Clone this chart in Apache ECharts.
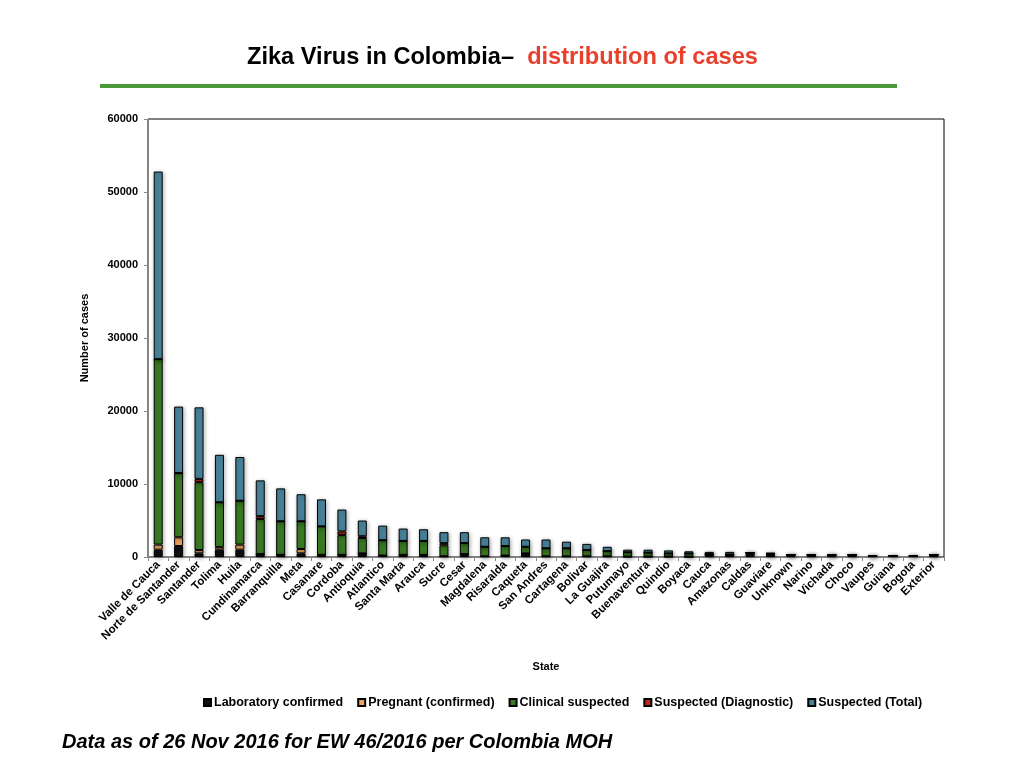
<!DOCTYPE html>
<html>
<head>
<meta charset="utf-8">
<title>Zika Virus in Colombia</title>
<script src="https://cdn.jsdelivr.net/npm/echarts@6/dist/echarts.min.js"></script>
<style>
  html, body { margin: 0; padding: 0; background: #fff; }
  #chart { width: 1024px; height: 768px; }
</style>
</head>
<body>
<div id="chart"></div>
<script>
// states, ordered as in the slide
var states = ['Valle de Cauca', 'Norte de Santander', 'Santander', 'Tolima', 'Huila',
    'Cundinamarca', 'Barranquilla', 'Meta', 'Casanare', 'Cordoba', 'Antioquia',
    'Atlantico', 'Santa Marta', 'Arauca', 'Sucre', 'Cesar', 'Magdalena', 'Risaralda',
    'Caqueta', 'San Andres', 'Cartagena', 'Bolivar', 'La Guajira', 'Putumayo',
    'Buenaventura', 'Quindio', 'Boyaca', 'Cauca', 'Amazonas', 'Caldas', 'Guaviare',
    'Unknown', 'Narino', 'Vichada', 'Choco', 'Vaupes', 'Guiana', 'Bogota', 'Exterior'];

// stacked segments
var labConfirmed = [1000, 1500, 500, 1000, 1000, 400, 300, 500, 300, 300, 500, 200, 300, 300, 100,
    400, 100, 200, 500, 100, 100, 100, 100, 50, 50, 50, 30, 350, 200, 600, 300,
    300, 300, 300, 300, 150, 150, 150, 300];
var pregnant = [700, 1200, 450, 350, 700, 0, 0, 600, 0, 0, 0, 0, 0, 0, 0,
    0, 0, 0, 0, 0, 0, 0, 0, 0, 0, 0, 0, 0, 0, 0, 0,
    0, 0, 0, 0, 0, 0, 0, 0];
var clinical = [25400, 8800, 9300, 6150, 6000, 4800, 4600, 3800, 3900, 2700, 2100, 2100, 1900, 1900, 1500,
    1500, 1300, 1300, 900, 1100, 1100, 850, 700, 600, 550, 450, 450, 50, 150, 0, 200,
    0, 0, 0, 0, 0, 0, 0, 0];
var suspDiag = [0, 0, 450, 0, 0, 400, 0, 0, 0, 500, 250, 0, 0, 0, 300,
    0, 0, 0, 0, 0, 0, 0, 0, 0, 0, 0, 0, 0, 0, 0, 0,
    0, 0, 0, 0, 0, 0, 0, 0];
var suspTotal = [25700, 9100, 9800, 6500, 6000, 4900, 4500, 3700, 3700, 3000, 2150, 2000, 1700, 1600, 1500,
    1500, 1300, 1200, 1000, 1200, 900, 850, 600, 350, 400, 400, 300, 300, 350, 0, 0,
    0, 0, 0, 0, 0, 0, 0, 0];

var yTicks = { min: 0, max: 60000, interval: 10000 };

var seriesDefs = [
    { name: 'Laboratory confirmed', data: labConfirmed, color: '#111111' },
    { name: 'Pregnant (confirmed)', data: pregnant, color: '#f0a35c' },
    { name: 'Clinical suspected', data: clinical, color: '#3a7b23' },
    { name: 'Suspected (Diagnostic)', data: suspDiag, color: '#c0271b' },
    { name: 'Suspected (Total)', data: suspTotal, color: '#48839b' }
];

var font = 'Liberation Sans, Arial, Helvetica, sans-serif';

var chart = echarts.init(document.getElementById('chart'));

var series = seriesDefs.map(function (d) {
    return {
        name: d.name,
        type: 'bar',
        stack: 'cases',
        barWidth: 9,
        data: d.data,
        itemStyle: {
            color: d.color,
            borderColor: '#000',
            borderWidth: 1,
            shadowBlur: 4,
            shadowColor: 'rgba(0,0,0,0.3)',
            shadowOffsetX: 1,
            shadowOffsetY: 1
        }
    };
});

var option = {
    backgroundColor: '#fff',
    animation: false,
    textStyle: { fontFamily: font },
    title: {
        left: 242,
        top: 40,
        text: '{a|Zika Virus in Colombia–  }{b|distribution of cases}',
        textStyle: {
            rich: {
                a: { fontFamily: font, fontSize: 23.6, fontWeight: 'bold', color: '#000' },
                b: { fontFamily: font, fontSize: 23.6, fontWeight: 'bold', color: '#e8402c' }
            }
        }
    },
    legend: {
        left: 198,
        top: 691,
        itemWidth: 7,
        itemHeight: 7,
        itemGap: 14,
        icon: 'rect',
        data: seriesDefs.map(function (d) { return d.name; }),
        textStyle: { fontFamily: font, fontSize: 12.5, fontWeight: 'bold', color: '#000', padding: [0, 0, 0, -2] }
    },
    grid: {
        left: 148,
        right: 80,
        top: 119,
        bottom: 211,
        show: true,
        borderColor: '#000',
        borderWidth: 1
    },
    xAxis: {
        type: 'category',
        data: states,
        name: 'State',
        nameLocation: 'middle',
        nameGap: 104,
        nameTextStyle: { fontFamily: font, fontSize: 11, fontWeight: 'bold', color: '#000' },
        axisLine: { lineStyle: { color: '#888', width: 1 } },
        axisTick: { show: true, length: 4, lineStyle: { color: '#888' } },
        axisLabel: {
            interval: 0,
            rotate: 45,
            margin: 6,
            fontFamily: font,
            fontSize: 11.5,
            fontWeight: 'bold',
            color: '#000'
        }
    },
    yAxis: {
        type: 'value',
        min: yTicks.min,
        max: yTicks.max,
        interval: yTicks.interval,
        name: 'Number of cases',
        nameLocation: 'middle',
        nameGap: 58,
        nameRotate: 90,
        nameTextStyle: { fontFamily: font, fontSize: 11, fontWeight: 'bold', color: '#000' },
        splitLine: { show: false },
        axisLine: { show: true, lineStyle: { color: '#888', width: 1 } },
        axisTick: { show: true, length: 4, lineStyle: { color: '#888' } },
        axisLabel: {
            fontFamily: font, fontSize: 11, fontWeight: 'bold', color: '#000', margin: 10,
            formatter: function (v) { return String(v); }
        }
    },
    graphic: [
        {
            type: 'rect',
            shape: { x: 100, y: 84, width: 797, height: 4 },
            style: { fill: '#4a9a37' }
        },
        {
            type: 'text',
            left: 62,
            top: 732,
            style: {
                text: 'Data as of 26 Nov 2016 for EW 46/2016 per Colombia MOH',
                font: 'italic bold 20px ' + font,
                fill: '#000'
            }
        }
    ],
    series: series
};

chart.setOption(option);
</script>
</body>
</html>
